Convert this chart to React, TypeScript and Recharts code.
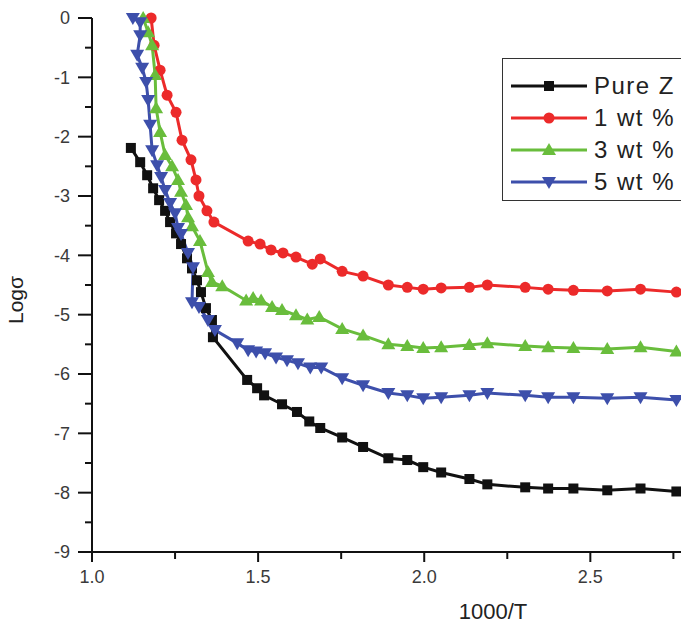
import React from "react";
import { Line, LineChart, XAxis, YAxis, Label } from "recharts";

// 1000/T vs log(sigma)
const pureX = [1.117, 1.145, 1.166, 1.184, 1.202, 1.22, 1.235, 1.253, 1.268, 1.286, 1.301, 1.316, 1.328, 1.343, 1.361, 1.364, 1.467, 1.497, 1.518, 1.572, 1.617, 1.654, 1.687, 1.753, 1.816, 1.892, 1.949, 1.997, 2.051, 2.136, 2.19, 2.304, 2.373, 2.449, 2.551, 2.651, 2.759];
const pureY = [-2.19, -2.43, -2.65, -2.87, -3.07, -3.25, -3.44, -3.63, -3.81, -4.05, -4.22, -4.42, -4.62, -4.89, -5.09, -5.38, -6.1, -6.24, -6.36, -6.51, -6.64, -6.8, -6.91, -7.07, -7.23, -7.42, -7.45, -7.57, -7.66, -7.77, -7.86, -7.91, -7.93, -7.93, -7.96, -7.93, -7.98];

const wt1X = [1.178, 1.187, 1.205, 1.226, 1.253, 1.271, 1.298, 1.313, 1.322, 1.346, 1.367, 1.47, 1.506, 1.539, 1.575, 1.614, 1.663, 1.687, 1.753, 1.816, 1.892, 1.949, 1.997, 2.051, 2.136, 2.19, 2.304, 2.373, 2.449, 2.551, 2.651, 2.759];
const wt1Y = [0, -0.46, -0.88, -1.3, -1.59, -2.06, -2.39, -2.73, -3.0, -3.25, -3.44, -3.76, -3.81, -3.91, -3.96, -4.03, -4.15, -4.06, -4.27, -4.35, -4.5, -4.54, -4.57, -4.55, -4.54, -4.5, -4.54, -4.57, -4.59, -4.6, -4.57, -4.62];

const wt3X = [1.154, 1.169, 1.181, 1.19, 1.193, 1.205, 1.22, 1.241, 1.259, 1.268, 1.283, 1.289, 1.301, 1.325, 1.349, 1.361, 1.392, 1.464, 1.485, 1.509, 1.542, 1.572, 1.614, 1.648, 1.684, 1.753, 1.816, 1.892, 1.949, 1.997, 2.051, 2.136, 2.19, 2.304, 2.373, 2.449, 2.551, 2.651, 2.759];
const wt3Y = [0, -0.24, -0.46, -0.96, -1.52, -1.92, -2.31, -2.5, -2.73, -2.93, -3.15, -3.36, -3.51, -3.76, -4.28, -4.45, -4.52, -4.76, -4.72, -4.76, -4.87, -4.92, -5.01, -5.08, -5.04, -5.24, -5.35, -5.5, -5.53, -5.56, -5.55, -5.51, -5.48, -5.53, -5.55, -5.56, -5.58, -5.55, -5.62];

const wt5X = [1.123, 1.145, 1.145, 1.136, 1.151, 1.163, 1.169, 1.175, 1.181, 1.196, 1.208, 1.22, 1.235, 1.25, 1.259, 1.268, 1.289, 1.304, 1.301, 1.322, 1.349, 1.37, 1.437, 1.47, 1.494, 1.521, 1.554, 1.587, 1.62, 1.657, 1.69, 1.753, 1.816, 1.892, 1.949, 1.997, 2.051, 2.136, 2.19, 2.304, 2.373, 2.449, 2.551, 2.651, 2.759];
const wt5Y = [0, -0.07, -0.29, -0.62, -0.84, -1.08, -1.38, -1.8, -2.23, -2.48, -2.68, -2.9, -3.12, -3.29, -3.54, -3.64, -3.96, -4.2, -4.79, -4.87, -5.09, -5.26, -5.48, -5.6, -5.62, -5.65, -5.72, -5.77, -5.82, -5.89, -5.89, -6.07, -6.19, -6.32, -6.36, -6.41, -6.39, -6.36, -6.32, -6.36, -6.39, -6.39, -6.41, -6.39, -6.44];

const xTicks = [1.0, 1.25, 1.5, 1.75, 2.0, 2.25, 2.5, 2.75];
const yTicks = [0, -0.5, -1, -1.5, -2, -2.5, -3, -3.5, -4, -4.5, -5, -5.5, -6, -6.5, -7, -7.5, -8, -8.5, -9];

const FONT = "'Liberation Sans', Arial, sans-serif";
const AXIS = "#111";
const LABEL = "#3a3a3a";

type Shape = "square" | "circle" | "up" | "down";

const SERIES: { name: string; color: string; shape: Shape; xs: number[]; ys: number[] }[] = [
  { name: "Pure Z", color: "#111111", shape: "square", xs: pureX, ys: pureY },
  { name: "1 wt %", color: "#ec2a2a", shape: "circle", xs: wt1X, ys: wt1Y },
  { name: "3 wt %", color: "#69bd3c", shape: "up", xs: wt3X, ys: wt3Y },
  { name: "5 wt %", color: "#3d4fab", shape: "down", xs: wt5X, ys: wt5Y },
];

function marker(shape: Shape, cx: number, cy: number, color: string, key?: string | number) {
  if (shape === "square") return <rect key={key} x={cx - 5} y={cy - 5} width={10} height={10} fill={color} />;
  if (shape === "circle") return <circle key={key} cx={cx} cy={cy} r={5.5} fill={color} />;
  if (shape === "up")
    return <polygon key={key} points={`${cx},${cy - 7} ${cx - 7},${cy + 5} ${cx + 7},${cy + 5}`} fill={color} />;
  return <polygon key={key} points={`${cx - 7},${cy - 5} ${cx + 7},${cy - 5} ${cx},${cy + 7}`} fill={color} />;
}

const Y_TICK = 14;
const Y_GAP = 8;
const X_TICK = 10;
const X_GAP = 8;

function YTick(props: any) {
  const { x, y, payload } = props;
  const v = payload.value as number;
  const major = Number.isInteger(v);
  const ax = x + Y_TICK + Y_GAP;
  return (
    <g>
      <line x1={ax} x2={ax - (major ? Y_TICK : 7)} y1={y} y2={y} stroke={AXIS} strokeWidth={2} />
      {major && (
        <text x={x} y={y} dy="0.36em" textAnchor="end" fontSize={18} fontFamily={FONT} fill={LABEL}>
          {String(v)}
        </text>
      )}
    </g>
  );
}

function XTick(props: any) {
  const { x, y, payload } = props;
  const v = payload.value as number;
  const major = Number.isInteger(v * 2);
  const ay = y - X_TICK - X_GAP;
  return (
    <g>
      <line x1={x} x2={x} y1={ay} y2={ay + (major ? X_TICK : 7)} stroke={AXIS} strokeWidth={2} />
      {major && (
        <text x={x} y={y} dy="0.71em" textAnchor="middle" fontSize={18} fontFamily={FONT} fill={LABEL}>
          {v.toFixed(1)}
        </text>
      )}
    </g>
  );
}

function YTitle(props: any) {
  const vb = props.viewBox;
  const cx = vb.x + 15;
  const cy = vb.y + vb.height / 2 + 15;
  return (
    <text x={cx} y={cy} transform={`rotate(-90 ${cx} ${cy})`} textAnchor="middle" dy="0.36em" fontSize={21} fontFamily={FONT} fill="#222">
      Logσ
    </text>
  );
}

function LegendBox() {
  return (
    <div
      style={{
        position: "absolute",
        left: 502,
        top: 58,
        width: 240,
        height: 143,
        border: "1.5px solid #333",
        background: "#fff",
        boxSizing: "border-box",
        paddingTop: 11,
        fontFamily: FONT,
      }}
    >
      {SERIES.map((s) => (
        <div key={s.name} style={{ display: "flex", alignItems: "center", height: 32 }}>
          <svg width={84} height={22} style={{ marginLeft: 6 }}>
            <line x1={2} x2={78} y1={11} y2={11} stroke={s.color} strokeWidth={3} />
            {marker(s.shape, 40, 11, s.color)}
          </svg>
          <span style={{ fontSize: 24, letterSpacing: 1.5, color: "#222", marginLeft: 1, whiteSpace: "nowrap" }}>
            {s.name}
          </span>
        </div>
      ))}
    </div>
  );
}

export default function App() {
  return (
    <div style={{ position: "fixed", left: 0, top: 0, width: 681, height: 630, overflow: "hidden", background: "#fff" }}>
      <LineChart width={700} height={630} margin={{ top: 18, right: 10, bottom: 0, left: 0 }}>
        <XAxis
          type="number"
          dataKey="x"
          domain={[1.0, 2.8]}
          ticks={xTicks}
          interval={0}
          tickSize={X_TICK}
          tickMargin={X_GAP}
          tickLine={false}
          tick={<XTick />}
          height={78}
          axisLine={{ stroke: AXIS, strokeWidth: 2 }}
          allowDuplicatedCategory={false}
        >
          <Label value="1000/T" position="insideBottom" offset={11} dx={102} fontSize={22} fontFamily={FONT} fill="#222" />
        </XAxis>
        <YAxis
          type="number"
          domain={[-9, 0]}
          ticks={yTicks}
          interval={0}
          width={92}
          tickSize={Y_TICK}
          tickMargin={Y_GAP}
          tickLine={false}
          tick={<YTick />}
          axisLine={{ stroke: AXIS, strokeWidth: 2 }}
        >
          <Label content={<YTitle />} />
        </YAxis>
        {SERIES.map((s) => (
          <Line
            key={s.name}
            name={s.name}
            data={s.xs.map((x, i) => ({ x, y: s.ys[i] }))}
            dataKey="y"
            type="linear"
            stroke={s.color}
            strokeWidth={3}
            dot={(p: any) => marker(s.shape, p.cx, p.cy, s.color, p.index)}
            activeDot={false}
            isAnimationActive={false}
          />
        ))}
      </LineChart>
      <LegendBox />
    </div>
  );
}
